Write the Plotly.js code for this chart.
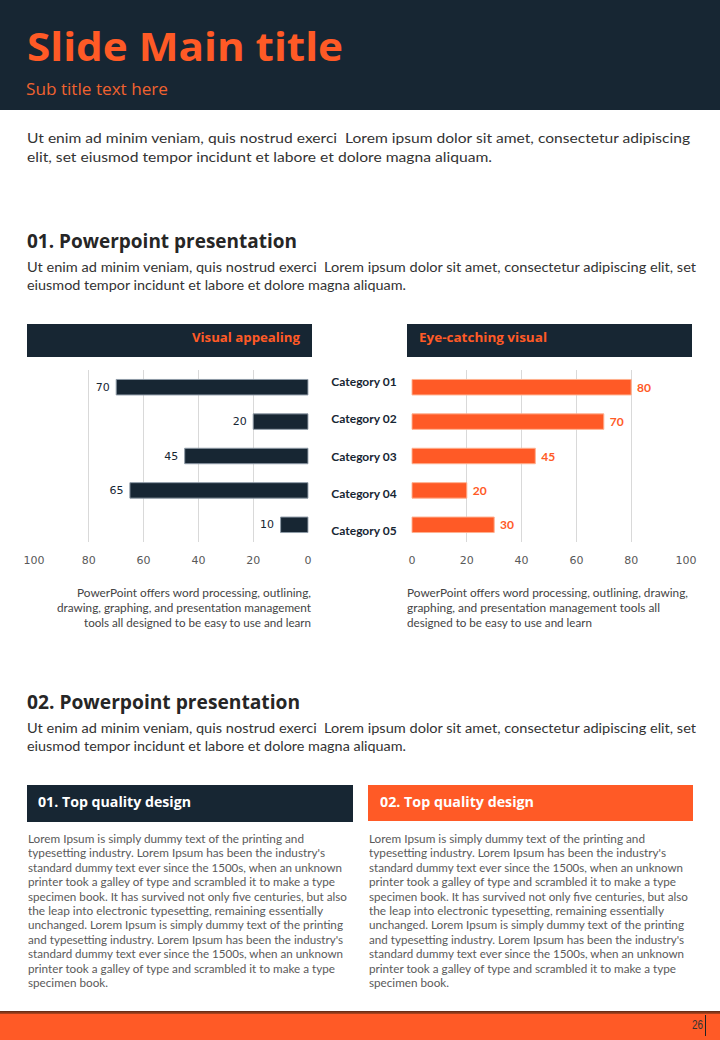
<!DOCTYPE html>
<html><head><meta charset="utf-8">
<script src="https://cdn.plot.ly/plotly-3.0.1.min.js"></script>
<style>
html,body{margin:0;padding:0;background:#fff;}
#page{position:relative;width:720px;height:1040px;overflow:hidden;background:#fff;}
.rect{position:absolute;}
.t{position:absolute;white-space:nowrap;transform-origin:0 50%;}
#chart{position:absolute;left:0;top:360px;width:720px;height:220px;}
</style></head><body><div id="page">
<div class="rect" style="left:0;top:0;width:720px;height:110px;background:#172633"></div>
<div class="t" data-x="27" data-y="46" data-w="316" style="font:700 40px 'Open Sans';color:#FF5A26">Slide Main title</div>
<div class="t" data-x="26" data-y="89" data-w="142" style="font:400 16px 'Open Sans';color:#F0622F">Sub title text here</div>

<div class="t" data-x="27" data-y="138" data-w="663" style="font:400 14px Lato;color:#333">Ut enim ad minim veniam, quis nostrud exerci&nbsp; Lorem ipsum dolor sit amet, consectetur adipiscing</div>
<div class="t" data-x="27" data-y="157" data-w="465" style="font:400 14px Lato;color:#333">elit, set eiusmod tempor incidunt et labore et dolore magna aliquam.</div>

<div class="t" data-x="27" data-y="241" data-w="270" style="font:700 19px 'Open Sans';color:#262626">01. Powerpoint presentation</div>
<div class="t" data-x="27" data-y="267" data-w="669" style="font:400 13.5px Lato;color:#333">Ut enim ad minim veniam, quis nostrud exerci&nbsp; Lorem ipsum dolor sit amet, consectetur adipiscing elit, set</div>
<div class="t" data-x="27" data-y="285" data-w="379" style="font:400 13.5px Lato;color:#333">eiusmod tempor incidunt et labore et dolore magna aliquam.</div>

<div class="rect" style="left:27px;top:324px;width:285px;height:33px;background:#172633"></div>
<div class="rect" style="left:407px;top:324px;width:285px;height:33px;background:#172633"></div>
<div class="t" data-r="300" data-y="337" data-w="108" style="font:700 13px 'Open Sans';color:#FF5A26">Visual appealing</div>
<div class="t" data-x="419" data-y="337" data-w="128" style="font:700 13px 'Open Sans';color:#FF5A26">Eye-catching visual</div>

<div id="chart"></div>

<div class="t" data-r="311" data-y="593" data-w="234" style="font:400 10.5px Lato;color:#444">PowerPoint offers word processing, outlining,</div>
<div class="t" data-r="311" data-y="608" data-w="254" style="font:400 10.5px Lato;color:#444">drawing, graphing, and presentation management</div>
<div class="t" data-r="311" data-y="623" data-w="227" style="font:400 10.5px Lato;color:#444">tools all designed to be easy to use and learn</div>
<div class="t" data-x="407" data-y="593" data-w="281" style="font:400 10.5px Lato;color:#444">PowerPoint offers word processing, outlining, drawing,</div>
<div class="t" data-x="407" data-y="608" data-w="253" style="font:400 10.5px Lato;color:#444">graphing, and presentation management tools all</div>
<div class="t" data-x="407" data-y="623" data-w="185" style="font:400 10.5px Lato;color:#444">designed to be easy to use and learn</div>

<div class="t" data-x="27" data-y="702" data-w="273" style="font:700 19px 'Open Sans';color:#262626">02. Powerpoint presentation</div>
<div class="t" data-x="27" data-y="728" data-w="669" style="font:400 13.5px Lato;color:#333">Ut enim ad minim veniam, quis nostrud exerci&nbsp; Lorem ipsum dolor sit amet, consectetur adipiscing elit, set</div>
<div class="t" data-x="27" data-y="746" data-w="379" style="font:400 13.5px Lato;color:#333">eiusmod tempor incidunt et labore et dolore magna aliquam.</div>

<div class="rect" style="left:27px;top:785px;width:326px;height:37px;background:#172633"></div>
<div class="rect" style="left:368px;top:785px;width:325px;height:36px;background:#FF5A26"></div>
<div class="t" data-x="38" data-y="802" data-w="153" style="font:700 14px 'Open Sans';color:#fff">01. Top quality design</div>
<div class="t" data-x="380" data-y="802" data-w="154" style="font:700 14px 'Open Sans';color:#fff">02. Top quality design</div>

<div id="body"></div>

<div class="rect" style="left:0;top:1011px;width:720px;height:3px;background:linear-gradient(#5a2a15,#b8451d)"></div>
<div class="rect" style="left:0;top:1014px;width:720px;height:26px;background:#FF5A26"></div>
<div class="t" data-x="692" data-y="1025" data-w="11" style="font:400 12px 'Liberation Sans';color:#333">26</div>
<div class="rect" style="left:705px;top:1015px;width:1px;height:21px;background:#222"></div>
</div>
<script>
// ---- chart data ----
const categories = ['Category 01','Category 02','Category 03','Category 04','Category 05'];
const leftValues = [70, 20, 45, 65, 10];
const rightValues = [80, 70, 45, 20, 30];
const xTickVals = [0, 20, 40, 60, 80, 100];

// ---- body text ----
const bodyLines = [
 ["Lorem Ipsum is simply dummy text of the printing and",276],
 ["typesetting industry. Lorem Ipsum has been the industry's",297],
 ["standard dummy text ever since the 1500s, when an unknown",314],
 ["printer took a galley of type and scrambled it to make a type",307],
 ["specimen book. It has survived not only five centuries, but also",319],
 ["the leap into electronic typesetting, remaining essentially",295],
 ["unchanged. Lorem Ipsum is simply dummy text of the printing",315],
 ["and typesetting industry. Lorem Ipsum has been the industry's",315],
 ["standard dummy text ever since the 1500s, when an unknown",315],
 ["printer took a galley of type and scrambled it to make a type",307],
 ["specimen book.",80]
];
const body = document.getElementById('body');
[28, 369].forEach(x0=>{
  bodyLines.forEach((l,i)=>{
    const d=document.createElement('div');
    d.className='t';
    d.dataset.x=x0; d.dataset.y=(839+14.4*i).toFixed(1); d.dataset.w=l[1];
    d.style.font="400 10.5px Lato"; d.style.color="#5a5a5a";
    d.textContent=l[0];
    body.appendChild(d);
  });
});

function fit(){
  document.querySelectorAll('.t').forEach(el=>{
    const fs=parseFloat(getComputedStyle(el).fontSize);
    const lh=Math.round(fs*1.3);
    el.style.lineHeight=lh+'px';
    el.style.transform='none';
    const w=el.getBoundingClientRect().width;
    const tw=+el.dataset.w;
    el.style.transform='scaleX('+(tw/w)+')';
    const x=el.dataset.r!==undefined?(+el.dataset.r-tw):+el.dataset.x;
    el.style.left=x+'px';
    el.style.top=(+el.dataset.y-lh/2)+'px';
  });
}
fit();
if(document.fonts&&document.fonts.ready) document.fonts.ready.then(fit);

const navy='#172633', orange='#FF5A26';
const tickfont={family:'DejaVu Sans',size:11,color:'#595959'};
const traces=[
 {type:'bar',orientation:'h',y:categories,x:leftValues,xaxis:'x',yaxis:'y',
  marker:{color:navy,line:{color:'#8e9aa6',width:1}},
  text:leftValues.map(v=>v+'\u00A0'),textposition:'outside',cliponaxis:false,
  textfont:{family:'DejaVu Sans',size:11,color:navy},hoverinfo:'skip'},
 {type:'bar',orientation:'h',y:categories,x:rightValues,xaxis:'x2',yaxis:'y',
  marker:{color:orange,line:{color:'#ffb08f',width:1}},
  text:rightValues.map(v=>'\u00A0'+v),textposition:'outside',cliponaxis:false,
  textfont:{family:'Lato',size:12,color:orange,weight:700},hoverinfo:'skip'},
 {type:'scatter',mode:'markers',y:categories,x:categories.map(()=>0),xaxis:'x3',yaxis:'y3',
  marker:{opacity:0},hoverinfo:'skip'}
];
const pad=0.3; // small range padding so edge gridlines are drawn
const xa={anchor:'y',tickvals:xTickVals,showgrid:true,gridcolor:'#d9d9d9',gridwidth:1,
  zeroline:false,showline:false,ticks:'outside',ticklen:8,tickcolor:'rgba(0,0,0,0)',tickfont:tickfont,fixedrange:true};
const ppu=2.74;
const layout={
 width:720,height:220,margin:{l:0,r:0,t:0,b:28},
 paper_bgcolor:'rgba(0,0,0,0)',plot_bgcolor:'rgba(0,0,0,0)',showlegend:false,bargap:0.55,
 xaxis:Object.assign({},xa,{domain:[(34-pad*ppu)/720,(308+pad*ppu)/720],range:[100+pad,-pad]}),
 xaxis2:Object.assign({},xa,{domain:[(412-pad*ppu)/720,(686+pad*ppu)/720],range:[-pad,100+pad]}),
 xaxis3:{domain:[412/720,686/720],anchor:'y3',visible:false,range:[0,100],fixedrange:true},
 yaxis:{domain:[0.0521,0.9479],type:'category',categoryarray:categories,categoryorder:'array',range:[4.5,-0.5],
   anchor:'x',showticklabels:false,showgrid:false,zeroline:false,showline:false,fixedrange:true},
 yaxis3:{domain:[0.0125,0.9823],type:'category',categoryarray:categories,categoryorder:'array',range:[4.5,-0.5],
   anchor:'x3',side:'left',ticks:'outside',ticklen:12,tickcolor:'rgba(0,0,0,0)',
   tickfont:{family:'Lato',size:12,color:navy,weight:700},showgrid:false,zeroline:false,showline:false,fixedrange:true}
};
Plotly.newPlot('chart',traces,layout,{displayModeBar:false,staticPlot:true});
</script>
</body></html>
